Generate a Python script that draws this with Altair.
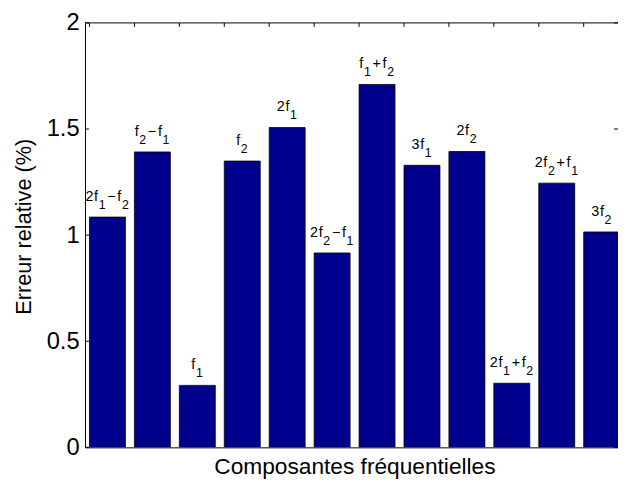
import altair as alt
import pandas as pd

# ---- data ----
# labels: "_" marks a subscript digit (f_1 -> f with subscript 1)
labels = ["2f_1−f_2", "f_2−f_1", "f_1", "f_2", "2f_1", "2f_2−f_1",
          "f_1+f_2", "3f_1", "2f_2", "2f_1+f_2", "2f_2+f_1", "3f_2"]
values = [1.085, 1.392, 0.292, 1.349, 1.507, 0.916,
          1.710, 1.329, 1.394, 0.302, 1.245, 1.015]
y_ticks = [0, 0.5, 1, 1.5, 2]

positions = list(range(1, len(labels) + 1))
half_width = 0.4

W, H = 540, 430
X_DOMAIN = [0.5, 12.363]
FONT = "Liberation Sans"
NAVY = "#00008C"
MAIN_SIZE = 14.5
SUB_SIZE = 12.5
PX_PER_UNIT = W / (X_DOMAIN[1] - X_DOMAIN[0])

# approximate Helvetica/Arial advance widths (em units) for text layout
EM = {"f": 0.278, "+": 0.584, "−": 0.584}
OP_PAD = 1.0    # extra px around binary operators (TeX-like spacing)
CHAR_PAD = 0.7  # extra px per glyph (looser TeX rendering)


def segments(label):
    """Split a label into (text, is_sub) runs."""
    out = []
    i = 0
    while i < len(label):
        if label[i] == "_":
            out.append((label[i + 1], True))
            i += 2
        else:
            j = i
            while j < len(label) and label[j] != "_":
                j += 1
            out.append((label[i:j], False))
            i = j
    return out


def char_w(c, size):
    w = EM.get(c, 0.556) * size + CHAR_PAD
    if c in "+−":
        w += 2 * OP_PAD
    return w


rows_main, rows_sub = [], []
for pos, lab, val in zip(positions, labels, values):
    segs = segments(lab)
    total = sum(char_w(c, SUB_SIZE if sub else MAIN_SIZE) for t, sub in segs for c in t)
    cur = -total / 2
    for t, sub in segs:
        size = SUB_SIZE if sub else MAIN_SIZE
        for c in t:
            lead = OP_PAD if c in "+−" else 0
            row = {"x": pos + (cur + lead) / PX_PER_UNIT, "value": val, "text": c}
            (rows_sub if sub else rows_main).append(row)
            cur += char_w(c, size)

df = pd.DataFrame({
    "pos": positions,
    "left": [p - half_width for p in positions],
    "right": [p + half_width for p in positions],
    "value": values,
})
main_df = pd.DataFrame(rows_main)
sub_df = pd.DataFrame(rows_sub)
ticks_df = pd.DataFrame({"t": y_ticks})
one = pd.DataFrame({"k": [0]})

xscale = alt.Scale(domain=X_DOMAIN, nice=False, zero=False)
yscale = alt.Scale(domain=[0, 2], nice=False, zero=True)

x_axis = alt.Axis(ticks=False, labels=False, grid=False, domain=True,
                  title="Composantes fréquentielles", titleFontSize=23,
                  titleFont=FONT, titleFontWeight="normal", titleColor="black",
                  titleBaseline="alphabetic", titleY=27, titleX=W / 2 + 3)
y_axis = alt.Axis(values=y_ticks, format="~g", ticks=False, tickSize=0,
                  grid=False, domain=True, labelFontSize=24, labelFont=FONT,
                  labelColor="black", labelPadding=6,
                  title="Erreur relative (%)", titleFontSize=22, titleFont=FONT,
                  titleFontWeight="normal", titleColor="black", titleAngle=270,
                  titleBaseline="alphabetic", titleX=-55, titleY=206)

bars = alt.Chart(df).mark_rect(color=NAVY, stroke="black", strokeWidth=0.8,
                               clip=True).encode(
    x=alt.X("left:Q", scale=xscale, axis=x_axis),
    x2="right:Q",
    y=alt.Y("value:Q", scale=yscale, axis=y_axis),
    y2=alt.datum(0),
)

main_text = alt.Chart(main_df).mark_text(
    font=FONT, fontSize=MAIN_SIZE, color="black", align="left",
    baseline="alphabetic", dy=-16.5).encode(
    x=alt.X("x:Q", scale=xscale),
    y=alt.Y("value:Q", scale=yscale),
    text="text:N",
)
sub_text = alt.Chart(sub_df).mark_text(
    font=FONT, fontSize=SUB_SIZE, color="black", align="left",
    baseline="alphabetic", dy=-8.5).encode(
    x=alt.X("x:Q", scale=xscale),
    y=alt.Y("value:Q", scale=yscale),
    text="text:N",
)

left_ticks = alt.Chart(ticks_df).mark_rule(color="black", strokeWidth=1).encode(
    y=alt.Y("t:Q", scale=yscale), x=alt.value(0), x2=alt.value(4))
right_ticks = alt.Chart(ticks_df).mark_rule(color="black", strokeWidth=1).encode(
    y=alt.Y("t:Q", scale=yscale), x=alt.value(W - 4), x2=alt.value(W))
top_ticks = alt.Chart(df).mark_rule(color="black", strokeWidth=1, clip=True).encode(
    x=alt.X("left:Q", scale=xscale), y=alt.value(0), y2=alt.value(4))
top_border = alt.Chart(one).mark_rule(color="black", strokeWidth=1).encode(
    x=alt.value(0), x2=alt.value(W), y=alt.value(0))

chart = alt.layer(left_ticks, right_ticks, top_ticks, top_border, bars,
                  main_text, sub_text).properties(
    width=W, height=H,
    autosize=alt.AutoSizeParams(type="none"),
    padding={"left": 78, "top": 12, "right": 0, "bottom": 33},
    background="white",
).configure_view(stroke=None).configure_axis(domainColor="black", domainWidth=1)

chart.save("out.html", embed_options={"renderer": "svg", "actions": False})
